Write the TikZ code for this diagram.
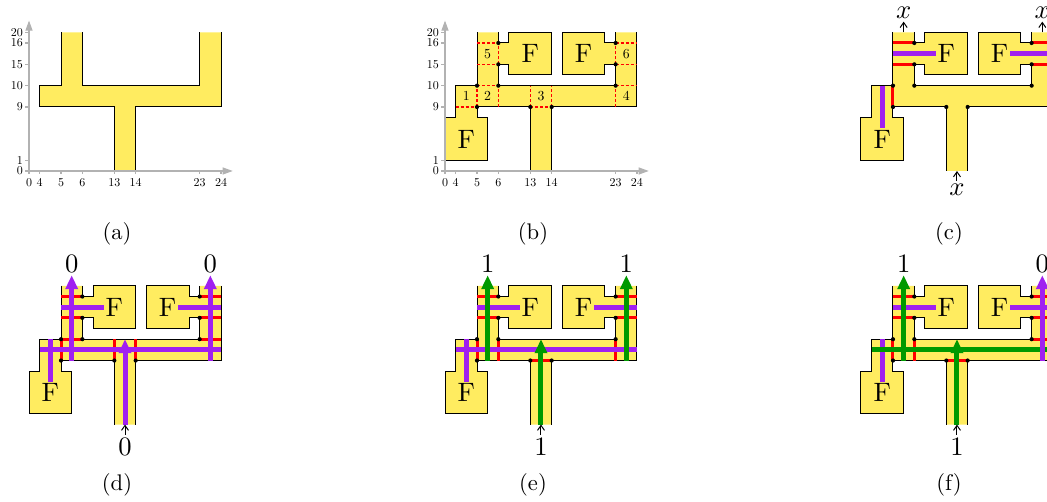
\documentclass[tikz,border=0pt]{standalone}
\usepackage{amsmath,amssymb}
\usetikzlibrary{arrows.meta,calc,positioning}
\definecolor{wireyellow}{RGB}{255,236,96}
\definecolor{signalpurple}{RGB}{160,32,240}
\definecolor{signalgreen}{RGB}{0,153,0}
\tikzset{
 outline/.style={line width=.5pt,black},
 axisline/.style={black!30,line width=.55pt},
 cutline/.style={red,line width=.6pt,dash pattern=on 1.5pt off 1pt},
 redline/.style={red,line width=1.5pt},
 purplewire/.style={signalpurple,line width=2.5pt},
 greenwire/.style={signalgreen,line width=2.5pt},
 purplearrow/.style={purplewire,-{Triangle[length=7pt,width=6pt]}},
 greenarrow/.style={greenwire,-{Triangle[length=7pt,width=6pt]}},
 thinarrow/.style={-{Straight Barb[length=2.5pt,width=3.5pt]},line width=.5pt},
 biglabel/.style={scale=1.33,inner sep=0pt},
 ticklabel/.style={scale=.6,inner sep=0pt},
 caption/.style={scale=1.13,inner sep=0pt},
}
% the wire junction on its own
\newcommand{\basefill}{\fill[wireyellow](8,0)--(10,0)--(10,6)--(18,6)--(18,13)--(16,13)--(16,8)--(5,8)--(5,13)--(3,13)--(3,8)--(1,8)--(1,6)--(8,6)--cycle;}
% junction with the three attached blocks
\newcommand{\gadgetshape}{
 \basefill
 \fill[wireyellow](1,6.1)--(1,5)--(0,5)--(0,1)--(4,1)--(4,5)--(3,5)--(3,6.1)--cycle;
 \fill[wireyellow](4.9,12)--(6,12)--(6,13)--(10,13)--(10,9)--(6,9)--(6,10)--(4.9,10)--cycle;
 \fill[wireyellow](16.1,12)--(15,12)--(15,13)--(11,13)--(11,9)--(15,9)--(15,10)--(16.1,10)--cycle;
 \draw[outline](3,13)--(3,8)--(1,8)--(1,5)--(0,5)--(0,1)--(4,1)--(4,5)--(3,5)--(3,6)--(8,6)--(8,0);
 \draw[outline](5,13)--(5,12)--(6,12)--(6,13)--(10,13)--(10,9)--(6,9)--(6,10)--(5,10)--(5,8)--(16,8)--(16,10)--(15,10)--(15,9)--(11,9)--(11,13)--(15,13)--(15,12)--(16,12)--(16,13);
 \draw[outline](18,13)--(18,6)--(10,6)--(10,0);
}
\newcommand{\gadgetdots}{
 \foreach \px/\py in {3/8,3/6,5/12,5/10,5/8,8/6,10/6,16/12,16/10,16/8}
  \fill[black](\px,\py)circle(1.05pt);
}
\newcommand{\blocknames}[1]{
 \node[biglabel](#1left)at(8,11){F};
 \node[biglabel](#1right)at(13,11){F};
 \node[biglabel](#1low)at(2,3){F};
}
\newcommand{\axesticks}[1]{
 \draw[axisline,-{Triangle[length=5pt,width=3.5pt]}](0,0)--(19.1,0);
 \draw[axisline,-{Triangle[length=5pt,width=3.5pt]}](0,0)--(0,14.1);
 \foreach \pos/\lab in {0/0,1/4,3/5,5/6,8/13,10/14,16/23,18/24}{
  \draw[axisline](\pos,0)--(\pos,-.3);
  \node[ticklabel](#1x\lab)at(\pos,-1.1){\lab};
 }
 \foreach \pos/\lab in {0/0,1/1,6/9,8/10,10/15,12/16,13/20}{
  \draw[axisline](0,\pos)--(-.35,\pos);
  \node[ticklabel,anchor=east](#1y\lab)at(-.55,\pos){\lab};
 }
}
% reds shared by every colored panel
\newcommand{\stubreds}{
 \draw[redline](3,12)--(5,12)(3,10)--(5,10)(16,12)--(18,12)(16,10)--(18,10);
 \draw[redline](3,6)--(3,8);
}
\newcommand{\blockwires}{
 \draw[purplewire](3,11)--(7,11);
 \draw[purplewire](14,11)--(18,11);
 \draw[purplewire](2,8)--(2,4);
}
% values at the three ports
\newcommand{\portlabels}[4]{
 \node[biglabel](#1in)at(9,-2.1){$#2$};
 \node[biglabel](#1outl)at(4,15.1){$#3$};
 \node[biglabel](#1outr)at(17,15.1){$#4$};
 \coordinate(#1intail)at(9,-1);
 \coordinate(#1intip)at(9,0);
 \draw[thinarrow](#1intail)--(#1intip);
}
\begin{document}
\begin{tikzpicture}[x=5.3333pt,y=5.3333pt]
 \useasboundingbox(-2.72,-31.03)rectangle(95.44,16.03);
 % (a) the plain junction
 \begin{scope}
  \basefill
  \draw[outline](3,13)--(3,8)--(1,8)--(1,6)--(8,6)--(8,0);
  \draw[outline](5,13)--(5,8)--(16,8)--(16,13);
  \draw[outline](18,13)--(18,6)--(10,6)--(10,0);
  \axesticks{a}
  \node[caption](capa)at(8.25,-5.9){(a)};
 \end{scope}
 % (b) with blocks and cuts
 \begin{scope}[xshift=39*5.3333pt]
  \gadgetshape
  \draw[cutline](1,6)--(3,6)(8,6)--(10,6)(3,8)--(5,8)(3,10)--(5,10)(3,12)--(5,12)(16,8)--(18,8)(16,10)--(18,10)(16,12)--(18,12);
  \draw[cutline](3,6)--(3,8)(5,6)--(5,8)(8,6)--(8,8)(10,6)--(10,8)(16,6)--(16,8)(5,10)--(5,12)(16,10)--(16,12);
  \gadgetdots
  \blocknames{b}
  \axesticks{b}
  \foreach \px/\py/\lab in {2/7/1,4/7/2,9/7/3,17/7/4,4/11/5,17/11/6}
   \node[ticklabel,scale=1.15](bpart\lab)at(\px,\py){\lab};
  \node[caption](capb)at(8.25,-5.9){(b)};
 \end{scope}
 % (c) input x
 \begin{scope}[xshift=78*5.3333pt]
  \gadgetshape
  \stubreds
  \blockwires
  \gadgetdots
  \blocknames{c}
  \node[biglabel](cin)at(9,-1.75){$x$};
  \node[biglabel](coutl)at(4,14.85){$x$};
  \node[biglabel](coutr)at(17,14.85){$x$};
  \coordinate(cintail)at(9,-.9);
  \coordinate(cintip)at(9,0);
  \coordinate(coutltail)at(4,13);
  \coordinate(coutltip)at(4,14);
  \coordinate(coutrtail)at(17,13);
  \coordinate(coutrtip)at(17,14);
  \draw[thinarrow](cintail)--(cintip);
  \draw[thinarrow](coutltail)--(coutltip);
  \draw[thinarrow](coutrtail)--(coutrtip);
  \node[caption](capc)at(8.25,-5.9){(c)};
 \end{scope}
 % (d) input 0
 \begin{scope}[yshift=-23.77*5.3333pt]
  \gadgetshape
  \stubreds
  \draw[redline](3,8)--(5,8)(16,8)--(18,8)(8,6)--(8,8)(10,6)--(10,8);
  \gadgetdots
  \blockwires
  \draw[purplewire](1,7)--(18,7);
  \coordinate(dinfoot)at(9,0);
  \coordinate(dintop)at(9,8);
  \coordinate(dlfoot)at(4,6);
  \coordinate(dltop)at(4,14);
  \coordinate(drfoot)at(17,6);
  \coordinate(drtop)at(17,14);
  \draw[purplearrow](dlfoot)--(dltop);
  \draw[purplearrow](drfoot)--(drtop);
  \draw[purplearrow](dinfoot)--(dintop);
  \blocknames{d}
  \portlabels{d}{0}{0}{0}
  \node[caption](capd)at(8.25,-5.7){(d)};
 \end{scope}
 % (e) input 1, both outputs
 \begin{scope}[xshift=39*5.3333pt,yshift=-23.77*5.3333pt]
  \gadgetshape
  \stubreds
  \draw[redline](5,6)--(5,8)(16,6)--(16,8)(8,6)--(10,6);
  \gadgetdots
  \blockwires
  \draw[purplewire](1,7)--(18,7);
  \coordinate(einfoot)at(9,0);
  \coordinate(eintop)at(9,8);
  \coordinate(elfoot)at(4,6);
  \coordinate(eltop)at(4,14);
  \coordinate(erfoot)at(17,6);
  \coordinate(ertop)at(17,14);
  \draw[greenarrow](elfoot)--(eltop);
  \draw[greenarrow](erfoot)--(ertop);
  \draw[greenarrow](einfoot)--(eintop);
  \blocknames{e}
  \portlabels{e}{1}{1}{1}
  \node[caption](cape)at(8.25,-5.7){(e)};
 \end{scope}
 % (f) input 1, one output
 \begin{scope}[xshift=78*5.3333pt,yshift=-23.77*5.3333pt]
  \gadgetshape
  \stubreds
  \draw[redline](5,6)--(5,8)(16,8)--(18,8)(8,6)--(10,6);
  \gadgetdots
  \blockwires
  \draw[greenwire](1,7)--(18,7);
  \coordinate(finfoot)at(9,0);
  \coordinate(fintop)at(9,8);
  \coordinate(flfoot)at(4,6);
  \coordinate(fltop)at(4,14);
  \coordinate(frfoot)at(17,6);
  \coordinate(frtop)at(17,14);
  \draw[greenarrow](flfoot)--(fltop);
  \draw[greenarrow](finfoot)--(fintop);
  \draw[purplearrow](frfoot)--(frtop);
  \blocknames{f}
  \portlabels{f}{1}{1}{0}
  \node[caption](capf)at(8.25,-5.7){(f)};
 \end{scope}
\end{tikzpicture}
\end{document}
